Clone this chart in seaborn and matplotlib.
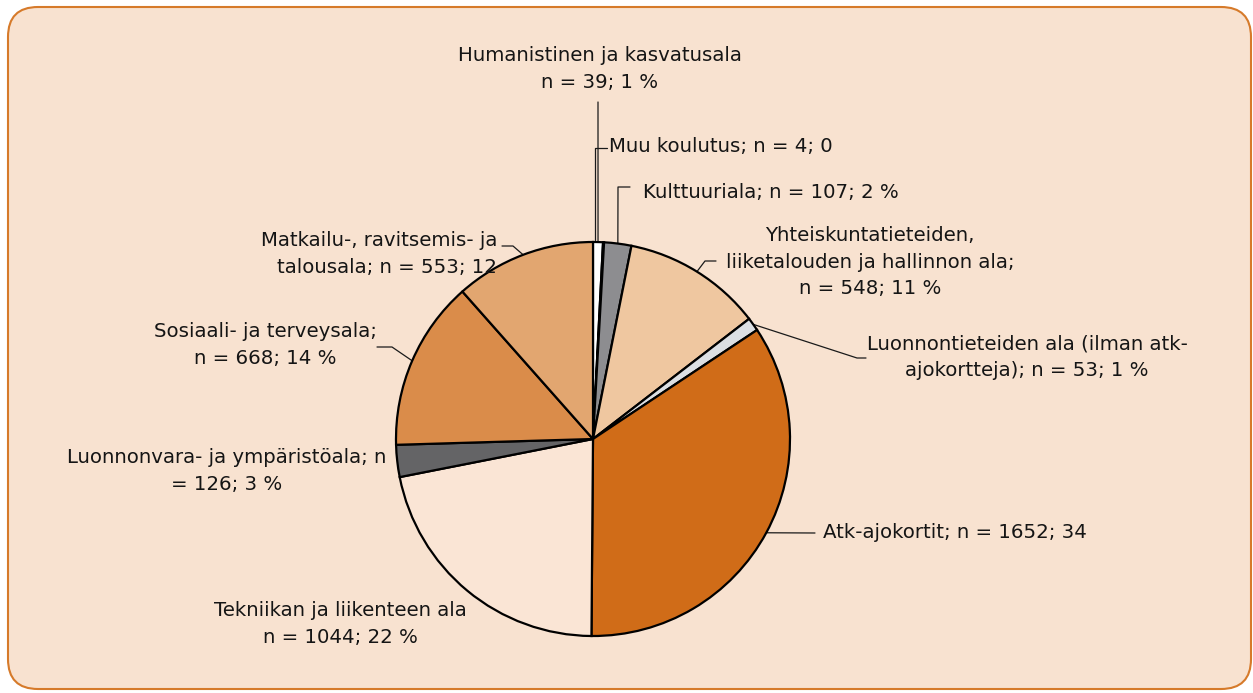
import numpy as np
import matplotlib
matplotlib.use("Agg")
import matplotlib.pyplot as plt
import seaborn as sns
from matplotlib.patches import FancyBboxPatch

sns.set_theme(style="white")
plt.rcParams['font.family'] = ['DejaVu Sans']

categories = [
    "Humanistinen ja kasvatusala",
    "Muu koulutus",
    "Kulttuuriala",
    "Yhteiskuntatieteiden, liiketalouden ja hallinnon ala",
    "Luonnontieteiden ala (ilman atk-ajokortteja)",
    "Atk-ajokortit",
    "Tekniikan ja liikenteen ala",
    "Luonnonvara- ja ympäristöala",
    "Sosiaali- ja terveysala",
    "Matkailu-, ravitsemis- ja talousala",
]
counts = [39, 4, 107, 548, 53, 1652, 1044, 126, 668, 553]
percents = [1, 0, 2, 11, 1, 34, 22, 3, 14, 12]
# label texts as visible in the reference (some are cut off at the edge)
label_texts = [
    "Humanistinen ja kasvatusala\nn = 39; 1 %",
    "Muu koulutus; n = 4; 0",
    "Kulttuuriala; n = 107; 2 %",
    "Yhteiskuntatieteiden,\nliiketalouden ja hallinnon ala;\nn = 548; 11 %",
    "Luonnontieteiden ala (ilman atk-\najokortteja); n = 53; 1 %",
    "Atk-ajokortit; n = 1652; 34",
    "Tekniikan ja liikenteen ala\nn = 1044; 22 %",
    "Luonnonvara- ja ympäristöala; n\n= 126; 3 %",
    "Sosiaali- ja terveysala;\nn = 668; 14 %",
    "Matkailu-, ravitsemis- ja\ntalousala; n = 553; 12",
]
colors = ["#ffffff", "#ffffff", "#8d8d90", "#efc7a0", "#dcdfe3",
          "#d06c18", "#fae5d5", "#646466", "#da8c4a", "#e2a670"]

W, H = 1253, 693
def P(x, y):
    return (x, H - y)

fig = plt.figure(figsize=(12.53, 6.93), dpi=100)
fig.patch.set_facecolor("white")
ax = fig.add_axes([0, 0, 1, 1])

bg = FancyBboxPatch(P(8, 689), 1243, 682,
                    boxstyle="round,pad=0,rounding_size=30",
                    facecolor="#f8e2d0", edgecolor="#d67a2a", linewidth=1.5, zorder=0)
ax.add_patch(bg)

cx, cy = P(593, 439)
R = 197
wedges, _ = ax.pie(counts, colors=colors, startangle=90, counterclock=False,
                   center=(cx, cy), radius=R,
                   wedgeprops=dict(edgecolor="black", linewidth=1.6), frame=True)
for w in wedges:
    w.set_zorder(2)

ax.set_xlim(0, W)
ax.set_ylim(0, H)
ax.set_aspect('equal')
ax.axis('off')

# label placement: (text position px, ha, leader waypoints px)
specs = [
    ((600, 69), "center", [(598, 102)]),
    ((609, 146), "left", [(595, 240), (595, 148), (607, 148)]),
    ((643, 192), "left", [(618, 187), (630, 187)]),
    ((870, 262), "center", [(705, 261), (716, 261)]),
    ((1027, 357), "center", [(857, 358), (866, 358)]),
    ((823, 533), "left", [(815, 533)]),
    ((340, 624), "center", None),
    ((227, 471), "center", None),
    ((265, 345), "center", [(392, 347), (377, 347)]),
    ((497, 254), "right", [(513, 246), (502, 246)]),
]

for w, txt, (pos, ha, pts) in zip(wedges, label_texts, specs):
    ang = np.deg2rad((w.theta1 + w.theta2) / 2)
    ax_pt = (cx + R * np.cos(ang), cy + R * np.sin(ang))
    ax.text(*P(*pos), txt, ha=ha, va="center", fontsize=14.2,
            color="#151515", linespacing=1.5, zorder=5, multialignment=ha)
    if pts:
        if txt.startswith("Muu"):
            xs = [p[0] for p in pts]
            ys = [H - p[1] for p in pts]
        else:
            xs = [ax_pt[0]] + [p[0] for p in pts]
            ys = [ax_pt[1]] + [H - p[1] for p in pts]
        ax.plot(xs, ys, color="#1a1a1a", linewidth=0.9, zorder=1)

fig.savefig("out.png", dpi=100, facecolor="white")
